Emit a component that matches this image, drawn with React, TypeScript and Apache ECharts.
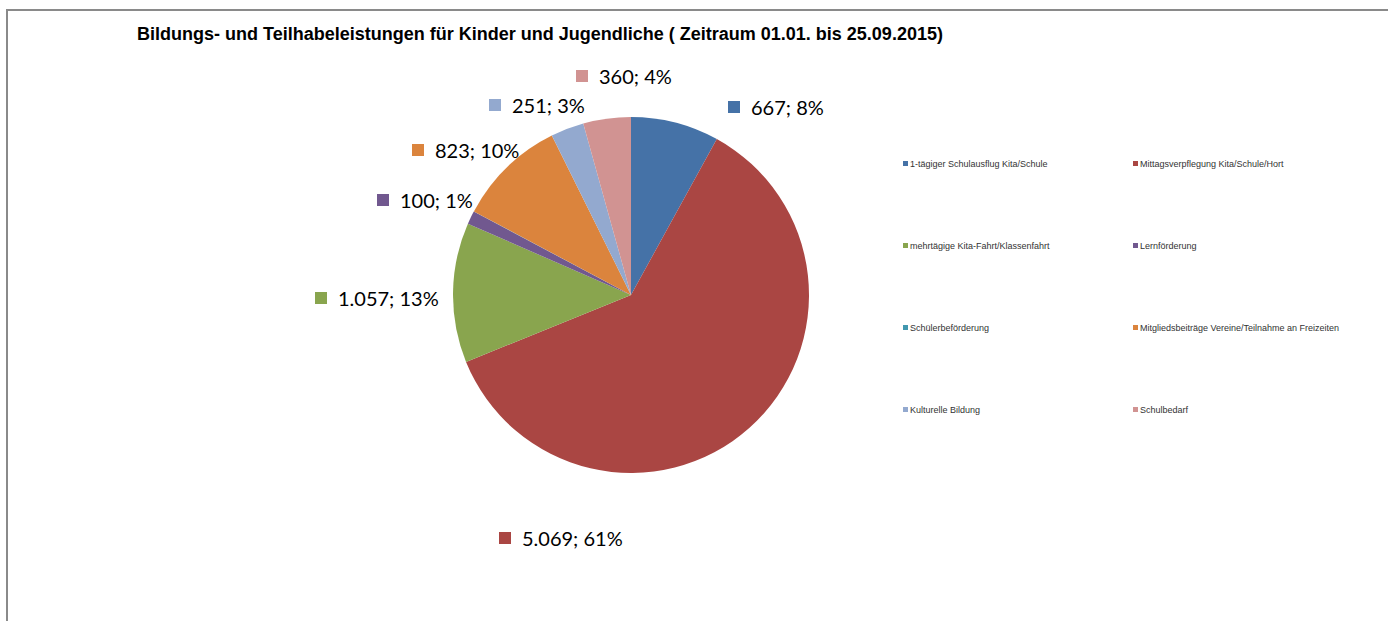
import React, { useEffect, useRef } from "react";
import * as echarts from "echarts";

const categories = [
  "1-tägiger Schulausflug Kita/Schule",
  "Mittagsverpflegung Kita/Schule/Hort",
  "mehrtägige Kita-Fahrt/Klassenfahrt",
  "Lernförderung",
  "Schülerbeförderung",
  "Mitgliedsbeiträge Vereine/Teilnahme an Freizeiten",
  "Kulturelle Bildung",
  "Schulbedarf",
];
const values = [667, 5069, 1057, 100, 2, 823, 251, 360];
const showLabel = [true, true, true, true, false, true, true, true];
const colors = ["#4572A7", "#AA4643", "#89A54E", "#71588F", "#4198AF", "#DB843D", "#93A9CF", "#D19392"];
const titleText = "Bildungs- und Teilhabeleistungen für Kinder und Jugendliche ( Zeitraum 01.01. bis 25.09.2015)";

// label anchor layout (marker left edge, vertical middle)
const labelPos: [number, number][] = [
  [728, 107],
  [499, 538],
  [315, 298],
  [377, 200],
  [0, 0],
  [412, 150],
  [489, 105],
  [576, 76],
];

function fmt(v: number): string {
  const s = String(Math.round(v));
  return s.replace(/\B(?=(\d{3})+(?!\d))/g, ".");
}

export default function App() {
  const ref = useRef<HTMLDivElement>(null);
  useEffect(() => {
    if (!ref.current) return;
    const chart = echarts.init(ref.current, undefined, { renderer: "svg" });
    const rich: any = {
      t: { fontFamily: "Lato, 'Open Sans', sans-serif", fontSize: 20, color: "#000", padding: [0, 0, 0, 11] },
    };
    colors.forEach((c, i) => {
      rich["m" + i] = { width: 12, height: 12, backgroundColor: c };
    });
    const leftIdx = [0, 2, 4, 6];
    const rightIdx = [1, 3, 5, 7];
    const legendCommon = {
      orient: "vertical" as const,
      padding: 0,
      itemWidth: 5,
      itemHeight: 5,
      itemGap: 73,
      icon: "rect",
      textStyle: { fontFamily: "Arial, 'Liberation Sans', sans-serif", fontSize: 9, color: "#333", padding: [0, 0, 0, -3] },
      selectedMode: false,
    };
    chart.setOption({
      animation: false,
      backgroundColor: "#fff",
      title: {
        text: titleText,
        left: 540,
        top: 25,
        padding: 0,
        textAlign: "center",
        textStyle: { fontFamily: "Arial, 'Liberation Sans', sans-serif", fontSize: 18, fontWeight: "bold", color: "#000" },
      },
      legend: [
        { ...legendCommon, left: 903, top: 159, data: leftIdx.map((i) => categories[i]) },
        { ...legendCommon, left: 1133, top: 159, data: rightIdx.map((i) => categories[i]) },
      ],
      graphic: [
        {
          type: "rect",
          shape: { x: 7, y: 10, width: 1500, height: 800 },
          style: { fill: "none", stroke: "#8a8a8a", lineWidth: 2 },
          silent: true,
        },
      ],
      series: [
        {
          type: "pie",
          center: [631, 295],
          radius: 178,
          startAngle: 90,
          clockwise: true,
          avoidLabelOverlap: false,
          itemStyle: { borderWidth: 0 },
          labelLine: { show: false },
          label: {
            show: true,
            position: "outside",
            formatter: (p: any) => `{m${p.dataIndex}|}{t|${fmt(p.value)}; ${Math.round(p.percent)}%}`,
            rich,
          },
          labelLayout: (p: any) => {
            const pos = labelPos[p.dataIndex];
            return { x: pos[0], y: pos[1], align: "left", verticalAlign: "middle" };
          },
          emphasis: { disabled: true },
          data: categories.map((name, i) => ({
            name,
            value: values[i],
            itemStyle: { color: colors[i] },
            label: { show: showLabel[i] },
          })),
        },
      ],
    });
    return () => chart.dispose();
  }, []);
  return <div ref={ref} style={{ position: "fixed", left: 0, top: 0, width: 1388, height: 621 }} />;
}
